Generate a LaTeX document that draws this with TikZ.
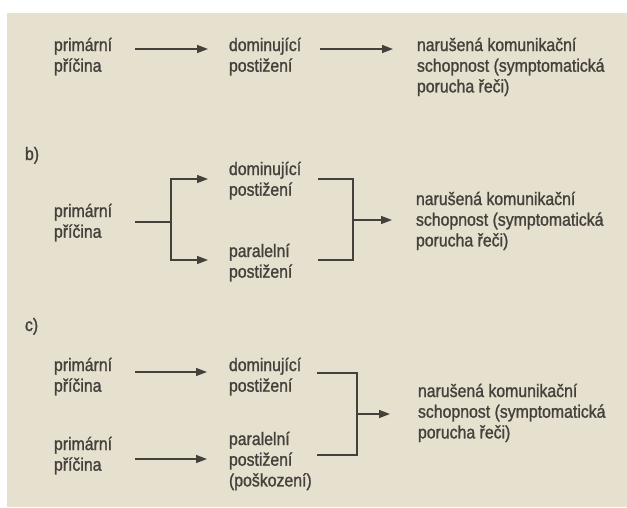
\documentclass[tikz,border=0pt]{standalone}
\usepackage{fontspec}
\setmainfont{Liberation Sans}[FakeStretch=0.88,FakeBold=1.2]
\usetikzlibrary{arrows.meta}
\definecolor{paper}{HTML}{E6E0CF}
\definecolor{ink}{HTML}{45403B}
\newcommand{\tlines}[1]{\begin{tabular}[t]{@{}l@{}}#1\end{tabular}}
\begin{document}
\begin{tikzpicture}[x=1pt,y=-1pt,
  txt/.style={anchor=base west, inner sep=0pt, outer sep=0pt, text=ink, font=\fontsize{18}{20.7}\selectfont},
  conn/.style={draw=ink, line width=1.4pt},
  arr/.style={conn, -{Triangle[length=11pt,width=8pt]}}]
\useasboundingbox (0,0) rectangle (627,507);
\fill[paper] (7,13) rectangle (627,507);

% ---------- panel a ----------
\node[txt] (pa) at (54,51) {\tlines{primární\\příčina}};
\node[txt] (da) at (229,51) {\tlines{dominující\\postižení}};
\node[txt] (na) at (417,51) {\tlines{narušená komunikační\\schopnost (symptomatická\\porucha řeči)}};
\coordinate (a1s) at (135,49); \coordinate (a1e) at (208,49);
\coordinate (a2s) at (320,49); \coordinate (a2e) at (393,49);
\draw[arr] (a1s) -- (a1e);
\draw[arr] (a2s) -- (a2e);

% ---------- panel b ----------
\node[txt] (lb) at (25,160) {b)};
\node[txt] (db) at (229,175) {\tlines{dominující\\postižení}};
\node[txt] (pb) at (54,217) {\tlines{primární\\příčina}};
\node[txt] (pab) at (229,257) {\tlines{paralelní\\postižení}};
\node[txt] (nb) at (416,205) {\tlines{narušená komunikační\\schopnost (symptomatická\\porucha řeči)}};
\coordinate (bs) at (135,222); \coordinate (bj) at (171,222);
\coordinate (bte) at (208,179); \coordinate (bbe) at (208,260);
\draw[conn] (bs) -- (bj);
\draw[arr] (bj) |- (bte);
\draw[arr] (bj) |- (bbe);
\coordinate (brt) at (318,179); \coordinate (brb) at (318,260);
\coordinate (brm) at (353,220); \coordinate (brae) at (392,220);
\draw[conn] (brt) -| (brm) |- (brb);
\draw[arr] (brm) -- (brae);

% ---------- panel c ----------
\node[txt] (lc) at (25,331) {c)};
\node[txt] (pc1) at (54,371) {\tlines{primární\\příčina}};
\node[txt] (dc) at (229,371) {\tlines{dominující\\postižení}};
\node[txt] (pc2) at (54,450) {\tlines{primární\\příčina}};
\node[txt] (pac) at (229,445) {\tlines{paralelní\\postižení\\(poškození)}};
\node[txt] (nc) at (418,397) {\tlines{narušená komunikační\\schopnost (symptomatická\\porucha řeči)}};
\coordinate (c1s) at (135,372); \coordinate (c1e) at (207,372);
\coordinate (c2s) at (135,459); \coordinate (c2e) at (207,459);
\draw[arr] (c1s) -- (c1e);
\draw[arr] (c2s) -- (c2e);
\coordinate (crt) at (317,373); \coordinate (crb) at (317,455);
\coordinate (crm) at (357,414); \coordinate (crae) at (390,414);
\draw[conn] (crt) -| (crm) |- (crb);
\draw[arr] (crm) -- (crae);
\end{tikzpicture}
\end{document}
